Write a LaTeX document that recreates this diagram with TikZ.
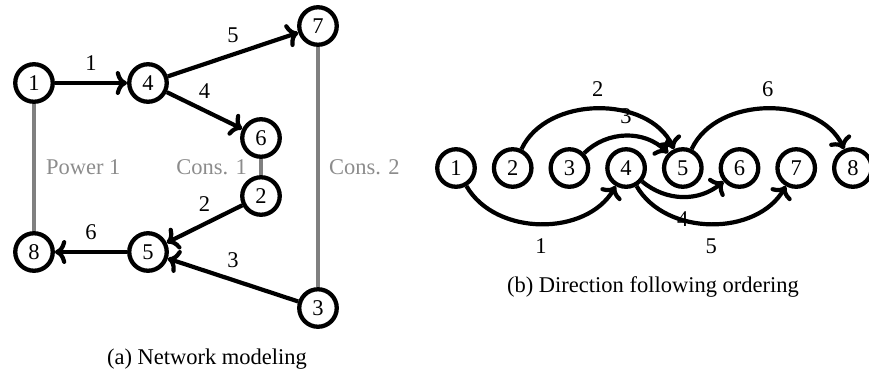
\documentclass[tikz,border=0pt]{standalone}
\usepackage{fontspec}
\setmainfont{Liberation Serif}
\usetikzlibrary{arrows.meta}
\begin{document}
\begin{tikzpicture}[x=1pt,y=-1pt,
  every node/.style={font=\fontsize{22.5}{26}\selectfont},
  vtx/.style={circle,draw,fill=white,line width=4.3pt,minimum size=37.5pt,inner sep=0pt},
  arc/.style={draw,line width=4.2pt,-{To[scale=1.05]}},
  cons/.style={draw=gray,line width=4.2pt},
  elab/.style={inner sep=2pt},
  clab/.style={text=gray!90,inner sep=0pt}]
\useasboundingbox (0,0) rectangle (869,376);
% (a) Network modeling
\node[vtx] (a1) at (34,83) {1};
\node[vtx] (a4) at (148,83) {4};
\node[vtx] (a7) at (318,26) {7};
\node[vtx] (a6) at (261,138) {6};
\node[vtx] (a2) at (261,196) {2};
\node[vtx] (a8) at (34,252) {8};
\node[vtx] (a5) at (148,252) {5};
\node[vtx] (a3) at (318,308) {3};
\draw[cons] (a1) -- node[clab,right,xshift=10pt] {Power 1} (a8);
\draw[cons] (a6) -- node[clab,left,xshift=-12pt] {Cons. 1} (a2);
\draw[cons] (a7) -- node[clab,right,xshift=9pt] {Cons. 2} (a3);
\draw[arc] (a1) -- node[elab,above=8pt] {1} (a4);
\draw[arc] (a4) -- node[elab,above=8pt] {5} (a7);
\draw[arc] (a4) -- node[elab,above=8pt] {4} (a6);
\draw[arc] (a2) -- node[elab,above=8pt] {2} (a5);
\draw[arc] (a3) -- node[elab,above=8pt] {3} (a5);
\draw[arc] (a5) -- node[elab,above=8pt] {6} (a8);
\node (capa) at (207,359) {(a) Network modeling};
% (b) Direction following ordering
\foreach \i in {1,...,8} {
  \node[vtx] (b\i) at ({456+56.7*(\i-1)},168) {\i};
}
\draw[arc] (b1) to[bend right=60] node[elab,below=11pt] {1} (b4);
\draw[arc] (b2) to[bend left=65] node[elab,above=8pt] {2} (b5);
\draw[arc] (b3) to[bend left=45] node[elab,above=8pt] {3} (b5);
\draw[arc] (b4) to[bend right=40] node[elab,below=11pt] {4} (b6);
\draw[arc] (b4) to[bend right=60] node[elab,below=11pt] {5} (b7);
\draw[arc] (b5) to[bend left=65] node[elab,above=8pt] {6} (b8);
\node (capb) at (653,287) {(b) Direction following ordering};
\end{tikzpicture}
\end{document}
